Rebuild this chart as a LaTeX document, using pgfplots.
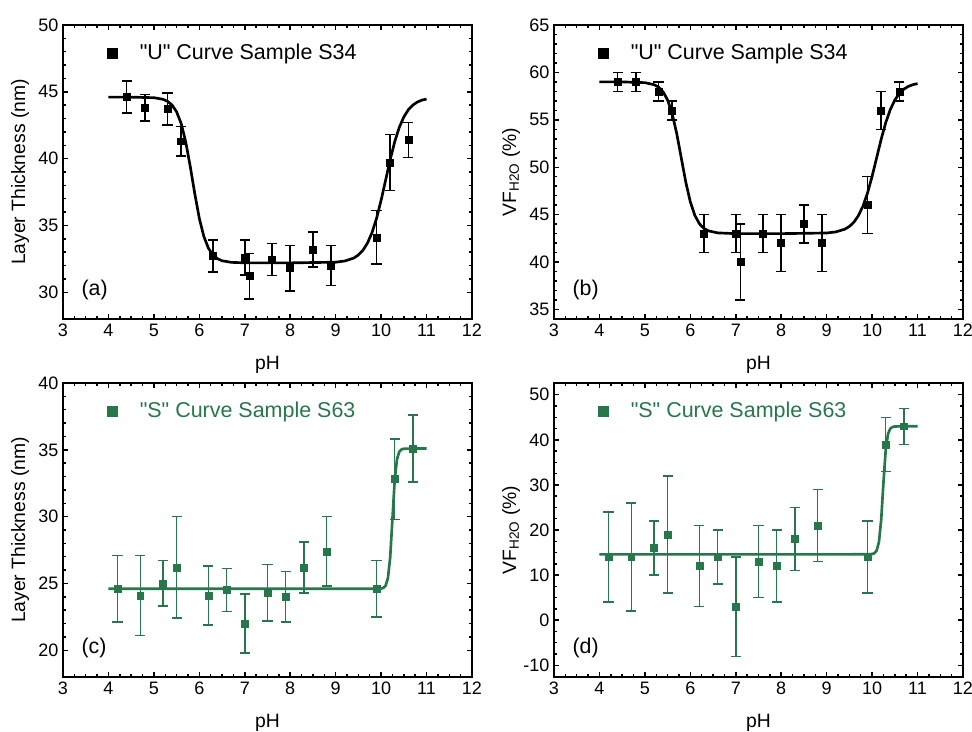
\documentclass[border=0pt]{standalone}
\usepackage{pgfplots}
\pgfplotsset{compat=1.18}
\usepackage{fontspec}
\setmainfont{Liberation Sans}[Ligatures=TeXOff]
\definecolor{sgreen}{RGB}{38,120,74}

% shared look of the four panels (1 px of the reference = 0.75 pt)
\pgfplotsset{
  panel/.style={
    scale only axis, width=306.75pt, height=220.5pt, anchor=south west,
    xmin=3, xmax=12, xtick={3,4,...,12}, minor x tick num=3,
    tick align=inside,
    axis line style={line width=1.5pt},
    major tick length=3.8pt, minor tick length=2.3pt,
    every tick/.style={line width=1.1pt, black},
    tick label style={font=\fontsize{13.5}{16}\selectfont},
    /pgf/number format/assume math mode=true,
    every axis x label/.style={at={(axis description cs:0.5,-0.155)}, anchor=center,
                               font=\fontsize{14.5}{17}\selectfont},
    every axis y label/.style={at={(axis description cs:-0.105,0.5)}, rotate=90, anchor=center,
                               font=\fontsize{14.5}{17}\selectfont},
    xlabel={pH},
    legend style={at={(axis description cs:0.108,0.905)}, anchor=west, draw=none, fill=none,
                  inner sep=0pt, font=\fontsize{16.1}{19}\selectfont},
    legend cell align=left,
    legend image code/.code={
      \path[draw=none, fill=none] (0pt,0pt) -- (18.5pt,0pt);
      \draw[##1, mark size=3.75pt] plot coordinates {(0pt,0pt)};},
  },
  fitline/.style={no marks, line width=2pt, #1},
  points/.style={only marks, mark=square*, mark size=2.6pt, color=#1,
    error bars/.cd, y dir=both, y explicit,
    error bar style={line width=1.1pt, #1},
    error mark options={rotate=90, mark size=3.8pt, line width=1.1pt, #1}},
}

\pgfplotstableread{
x y e
4.4 44.6 1.2
4.8 43.8 1.0
5.3 43.7 1.2
5.6 41.3 1.1
6.3 32.7 1.2
7.0 32.6 1.3
7.1 31.2 1.7
7.6 32.45 1.2
8.0 31.8 1.7
8.5 33.2 1.3
8.9 32.0 1.5
9.9 34.1 2.0
10.2 39.7 2.1
10.6 41.4 1.3
}\dataA

\pgfplotstableread{
x y e
4.4 59 1
4.8 59 1
5.3 58 1
5.6 56 1
6.3 43 2
7.0 43 2
7.1 40 4
7.6 43 2
8.0 42 3
8.5 44 2
8.9 42 3
9.9 46 3
10.2 56 2
10.6 58 1
}\dataB

\pgfplotstableread{
x y e
4.2 24.6 2.5
4.7 24.1 3.0
5.2 25.0 1.7
5.5 26.2 3.8
6.2 24.1 2.2
6.6 24.5 1.6
7.0 22.0 2.2
7.5 24.3 2.1
7.9 24.0 1.9
8.3 26.2 1.9
8.8 27.4 2.6
9.9 24.6 2.1
10.3 32.8 3.0
10.7 35.1 2.5
}\dataC

\pgfplotstableread{
x y e
4.2 14 10
4.7 14 12
5.2 16 6
5.5 19 13
6.2 12 9
6.6 14 6
7.0 3 11
7.5 13 8
7.9 12 8
8.3 18 7
8.8 21 8
9.9 14 8
10.3 39 6
10.7 43 4
}\dataD

\begin{document}
\begin{tikzpicture}
\useasboundingbox (0,0) rectangle (729pt,549pt);

% (a)
\begin{axis}[panel, at={(47.25pt,309.75pt)},
    ymin=28, ymax=50, ytick={30,35,...,50}, minor y tick num=4,
    ylabel={Layer Thickness (nm)}]
\addplot[fitline=black, forget plot] coordinates {
 (4,44.6)(4.5,44.6)(5.0,44.56)(5.2,44.44)(5.3,44.29)(5.4,44.01)(5.5,43.50)(5.6,42.63)
 (5.7,41.26)(5.8,39.42)(5.85,38.4)(5.9,37.38)(6.0,35.53)(6.1,34.17)(6.2,33.30)(6.3,32.79)
 (6.4,32.51)(6.5,32.36)(6.7,32.24)(7.0,32.2)(8.0,32.2)(9.0,32.25)(9.2,32.34)(9.4,32.56)
 (9.5,32.79)(9.6,33.14)(9.7,33.68)(9.8,34.46)(9.9,35.53)(10.0,36.88)(10.1,38.40)(10.2,39.92)
 (10.3,41.27)(10.4,42.34)(10.5,43.12)(10.6,43.66)(10.7,44.01)(10.8,44.24)(10.9,44.38)(11.0,44.46)};
\addplot[points=black] table[x=x, y=y, y error=e] {\dataA};
\legend{"U" Curve Sample S34}
\node[anchor=west, font=\fontsize{16}{19}\selectfont] at (axis description cs:0.034,0.099) {(a)};
\end{axis}

% (b)
\begin{axis}[panel, at={(415.5pt,309.75pt)},
    ymin=34, ymax=65, ytick={35,40,...,65}, minor y tick num=4,
    ylabel={VF\textsubscript{H2O} (\%)}]
\addplot[fitline=black, forget plot] coordinates {
 (4,59)(4.5,59)(5.0,58.92)(5.2,58.71)(5.3,58.45)(5.4,57.96)(5.5,57.09)(5.6,55.66)(5.7,53.57)
 (5.8,51.0)(5.9,48.43)(6.0,46.34)(6.1,44.91)(6.2,44.04)(6.3,43.55)(6.4,43.29)(6.6,43.08)
 (7.0,43.0)(8.0,43.0)(9.0,43.07)(9.2,43.18)(9.4,43.47)(9.5,43.76)(9.6,44.21)(9.7,44.91)
 (9.8,45.92)(9.9,47.30)(10.0,49.04)(10.1,51.0)(10.2,52.96)(10.3,54.70)(10.4,56.08)(10.5,57.09)
 (10.6,57.79)(10.7,58.24)(10.8,58.53)(10.9,58.71)(11.0,58.82)};
\addplot[points=black] table[x=x, y=y, y error=e] {\dataB};
\legend{"U" Curve Sample S34}
\node[anchor=west, font=\fontsize{16}{19}\selectfont] at (axis description cs:0.034,0.099) {(b)};
\end{axis}

% (c)
\begin{axis}[panel, at={(47.25pt,41.25pt)},
    ymin=18, ymax=40, ytick={20,25,...,40}, minor y tick num=4,
    ylabel={Layer Thickness (nm)},
    legend style={text=sgreen}]
\addplot[fitline=sgreen, forget plot] coordinates {
 (4,24.6)(6,24.6)(8,24.6)(9.5,24.6)(9.9,24.61)(10.0,24.62)(10.05,24.67)(10.1,24.84)(10.15,25.40)
 (10.2,26.94)(10.25,29.85)(10.3,32.76)(10.35,34.30)(10.4,34.86)(10.45,35.03)(10.5,35.08)
 (10.7,35.1)(11,35.1)};
\addplot[points=sgreen] table[x=x, y=y, y error=e] {\dataC};
\legend{"S" Curve Sample S63}
\node[anchor=west, font=\fontsize{16}{19}\selectfont] at (axis description cs:0.034,0.099) {(c)};
\end{axis}

% (d)
\begin{axis}[panel, at={(415.5pt,41.25pt)},
    ymin=-12.6, ymax=52.6, ytick={-10,0,...,50}, minor y tick num=3,
    ylabel={VF\textsubscript{H2O} (\%)},
    legend style={text=sgreen}]
\addplot[fitline=sgreen, forget plot] coordinates {
 (4,14.6)(6,14.6)(8,14.6)(9.5,14.6)(9.9,14.63)(10.0,14.67)(10.05,14.84)(10.1,15.43)(10.15,17.31)
 (10.2,22.24)(10.25,30.57)(10.3,37.82)(10.35,41.29)(10.4,42.49)(10.45,42.85)(10.5,42.96)
 (10.7,43.0)(11,43.0)};
\addplot[points=sgreen] table[x=x, y=y, y error=e] {\dataD};
\legend{"S" Curve Sample S63}
\node[anchor=west, font=\fontsize{16}{19}\selectfont] at (axis description cs:0.034,0.099) {(d)};
\end{axis}
\end{tikzpicture}
\end{document}
